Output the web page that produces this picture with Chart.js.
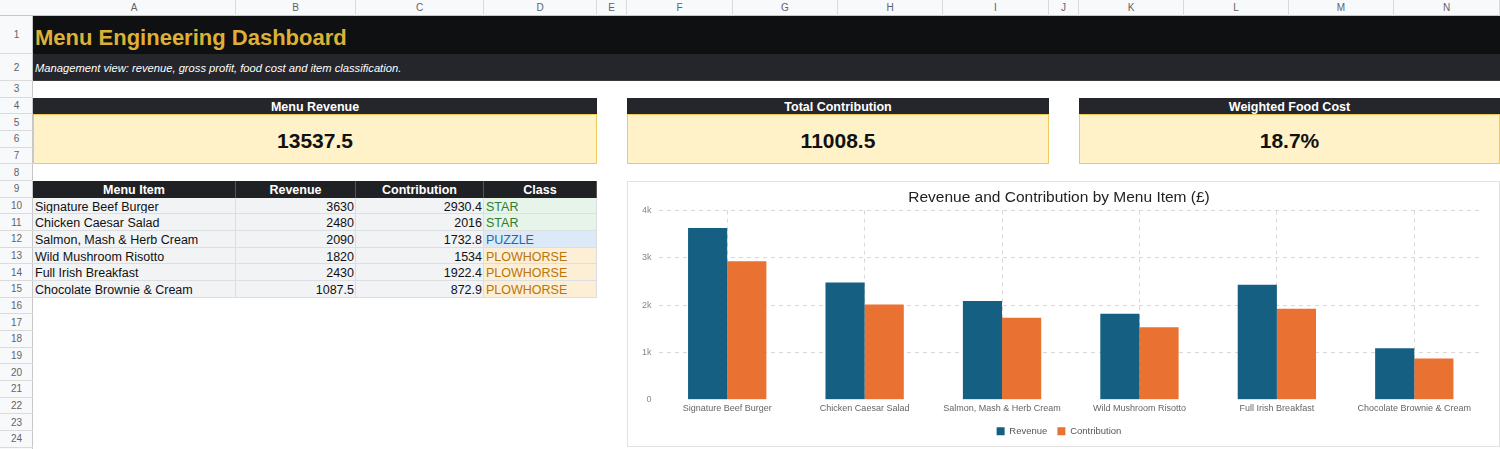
<!DOCTYPE html>
<html>
<head>
<meta charset="utf-8">
<script src="https://cdn.jsdelivr.net/npm/chart.js@4/dist/chart.umd.min.js"></script>
<style>
  html, body { margin: 0; padding: 0; background: #fff; }
  body { width: 1500px; height: 449px; overflow: hidden; position: relative;
         font-family: "Liberation Sans", Arial, Helvetica, sans-serif; }
  .c { position: absolute; box-sizing: border-box; white-space: nowrap; overflow: hidden; }
  #chartBox { position: absolute; left: 627px; top: 181px; width: 873px; height: 266px;
              border: 1px solid #e2e2e2; box-sizing: border-box; background: #fff; }
</style>
</head>
<body>
<div id="sheet"></div>
<div id="chartBox"><canvas id="myChart"></canvas></div>
<script>
// sheet data
const menuItems = [
    'Signature Beef Burger',
    'Chicken Caesar Salad',
    'Salmon, Mash & Herb Cream',
    'Wild Mushroom Risotto',
    'Full Irish Breakfast',
    'Chocolate Brownie & Cream',
];
const revenue = [3630, 2480, 2090, 1820, 2430, 1087.5];
const contribution = [2930.4, 2016, 1732.8, 1534, 1922.4, 872.9];
const itemClass = ['STAR', 'STAR', 'PUZZLE', 'PLOWHORSE', 'PLOWHORSE', 'PLOWHORSE'];
const kpiLabels = ['Menu Revenue', 'Total Contribution', 'Weighted Food Cost'];
const kpiValues = ['13537.5', '11008.5', '18.7%'];
const yTickLabels = ['0', '1k', '2k', '3k', '4k'];

const colNames = ['A','B','C','D','E','F','G','H','I','J','K','L','M','N'];
const colX = [0, 33, 236, 356, 484, 597, 627, 733, 838, 943, 1049, 1079, 1184, 1289, 1394, 1500];
const rowY = [0, 16, 54, 81];
for (let i = 0; i < 22; i++) rowY.push(81 + (i + 1) * 16.67);

const sheet = document.getElementById('sheet');
function cell(x1, y1, x2, y2, css, text) {
    const d = document.createElement('div');
    d.className = 'c';
    d.style.left = x1 + 'px';
    d.style.top = y1 + 'px';
    d.style.width = (x2 - x1) + 'px';
    d.style.height = (y2 - y1) + 'px';
    d.style.cssText += css;
    if (text !== undefined) d.textContent = text;
    sheet.appendChild(d);
    return d;
}
// cx(c) -> left edge of column index c (0 = A)
const cx = c => colX[c + 1];
const ry = r => rowY[r];

// headers
cell(0, 0, 1500, 16, 'background:#f8f9fa;border-bottom:1px solid #c7c7c7;');
cell(0, 16, 33, 449, 'background:#f8f9fa;border-right:1px solid #c7c7c7;');
for (let c = 0; c < colNames.length; c++) {
    cell(cx(c), 0, cx(c + 1), 16, 'color:#5f6368;font-size:10px;text-align:center;line-height:16px;border-right:1px solid #dadada;', colNames[c]);
}
for (let r = 1; r <= 24; r++) {
    cell(0, ry(r), 33, ry(r + 1), 'color:#5f6368;font-size:10px;text-align:center;display:flex;align-items:center;justify-content:center;border-bottom:1px solid #dadada;', String(r));
}

// title rows
cell(33, ry(1), 1500, ry(2), 'background:#0f1012;color:#ddb137;font-weight:bold;font-size:22px;padding-left:2px;padding-top:9px;line-height:26px;', 'Menu Engineering Dashboard');
cell(33, ry(2), 1500, ry(3), 'background:#25262b;color:#fff;font-style:italic;font-size:11.2px;padding-left:2px;padding-top:7px;line-height:14px;border-bottom:1px solid #3a3a3a;', 'Management view: revenue, gross profit, food cost and item classification.');

// KPI cards
const kpiCols = [[0, 4], [5, 9], [10, 14]];
kpiCols.forEach(([a, b], i) => {
    cell(cx(a), ry(4), cx(b), ry(5), 'background:#25262b;color:#fff;font-weight:bold;font-size:12.5px;text-align:center;line-height:18px;', kpiLabels[i]);
    cell(cx(a), ry(5), cx(b), ry(8), 'background:#fff2c8;border:1px solid #efc95a;color:#111;font-weight:bold;font-size:21px;display:flex;align-items:center;justify-content:center;padding-top:4px;', kpiValues[i]);
});

// table
const tableHead = ['Menu Item', 'Revenue', 'Contribution', 'Class'];
tableHead.forEach((t, c) => {
    cell(cx(c), ry(9), cx(c + 1), ry(10), 'background:#202124;color:#fff;font-weight:bold;font-size:12.5px;text-align:center;line-height:19px;border-right:1px solid #555;', t);
});
const classStyle = {
    STAR: 'background:#e6f4ea;color:#2e7d32;',
    PUZZLE: 'background:#dce9f8;color:#1f69a6;',
    PLOWHORSE: 'background:#fdefd5;color:#b97509;',
};
const cellBase = 'font-size:12.5px;line-height:19px;border-right:1px solid #dcdfe2;border-bottom:1px solid #dcdfe2;';
menuItems.forEach((item, i) => {
    const r = 10 + i;
    cell(cx(0), ry(r), cx(1), ry(r + 1), cellBase + 'background:#f1f3f5;color:#111;padding-left:2px;', item);
    cell(cx(1), ry(r), cx(2), ry(r + 1), cellBase + 'background:#f1f3f5;color:#111;text-align:right;padding-right:1px;', String(revenue[i]));
    cell(cx(2), ry(r), cx(3), ry(r + 1), cellBase + 'background:#f1f3f5;color:#111;text-align:right;padding-right:1px;', String(contribution[i]));
    cell(cx(3), ry(r), cx(4), ry(r + 1), cellBase + classStyle[itemClass[i]] + 'padding-left:2px;', itemClass[i]);
});

// chart
const data = {
    labels: menuItems,
    datasets: [{
        label: 'Revenue',
        backgroundColor: '#156082',
        data: revenue,
    }, {
        label: 'Contribution',
        backgroundColor: '#e97132',
        data: contribution,
    }]
};

const tickFont = { family: '"Liberation Sans", Arial, sans-serif', size: 9 };

const config = {
    type: 'bar',
    data: data,
    options: {
        responsive: true,
        maintainAspectRatio: false,
        animation: false,
        layout: { padding: { top: 6, left: 7, right: 16, bottom: 0 } },
        datasets: { bar: { categoryPercentage: 0.57, barPercentage: 1.0 } },
        plugins: {
            title: {
                display: true,
                text: 'Revenue and Contribution by Menu Item (£)',
                color: '#222',
                font: { family: '"Liberation Sans", Arial, sans-serif', size: 15.5, weight: 'normal' },
                padding: { top: 0, bottom: 4 }
            },
            legend: {
                position: 'bottom',
                labels: {
                    boxWidth: 8,
                    boxHeight: 8,
                    color: '#555',
                    font: { family: '"Liberation Sans", Arial, sans-serif', size: 9.5 },
                    padding: 10
                }
            },
            tooltip: { enabled: false }
        },
        scales: {
            x: {
                grid: { offset: false, color: '#d8d8d8', drawTicks: false },
                border: { display: false, dash: [4, 4] },
                ticks: { color: '#666', font: tickFont, padding: 3, maxRotation: 0 }
            },
            y: {
                min: 0,
                max: 4000,
                grid: {
                    color: ctx => ctx.tick && ctx.tick.value === 0 ? 'rgba(0,0,0,0)' : '#d8d8d8',
                    drawTicks: false
                },
                border: { display: false, dash: [4, 4] },
                ticks: {
                    stepSize: 1000,
                    color: '#888',
                    font: tickFont,
                    padding: 7,
                    callback: v => yTickLabels[v / 1000]
                }
            }
        }
    }
};

const myChart = new Chart(document.getElementById('myChart'), config);
</script>
</body>
</html>
